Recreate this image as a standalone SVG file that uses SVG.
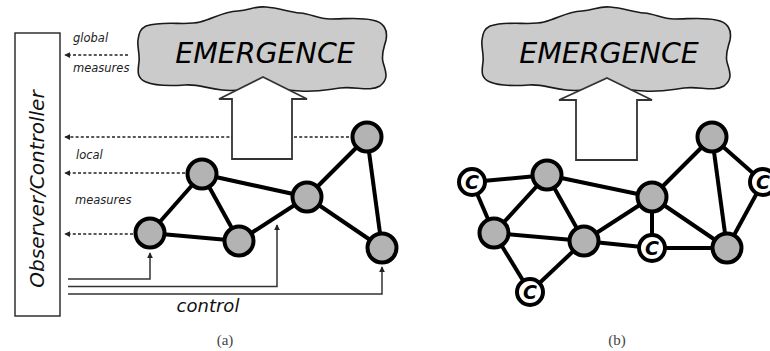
<svg xmlns="http://www.w3.org/2000/svg" width="770" height="351" viewBox="0 0 770 351">
  <defs>
    <marker id="tip" viewBox="0 0 8 8" refX="7" refY="4" markerWidth="6" markerHeight="6" markerUnits="userSpaceOnUse" orient="auto">
      <path d="M0,0 L8,4 L0,8 z" fill="#222"/>
    </marker>
    <path id="cloud" d="M146,26 C165,20 185,26 200,22 C215,18 222,12 238,11 C250,10 255,6 266,7 C280,8 288,12 300,13 C312,14 318,19 330,19 C345,19 360,17 372,20 C384,22 388,30 386,40 C384,48 381,54 383,62 C385,70 390,78 380,86 C370,92 355,86 340,88 C325,90 318,92 300,91 C285,90 275,88 262,88 C248,88 238,92 222,90 C205,88 198,84 185,85 C170,86 155,86 146,82 C136,78 138,70 139,62 C140,54 137,47 138,40 C139,33 140,29 146,26 z"/>
  </defs>
  <style>
    .cloud { fill: #cbcbcb; stroke: #1a1a1a; stroke-width: 1.6; }
    .big { fill: #ffffff; stroke: #333; stroke-width: 1.8; }
    .edge { stroke: #000; stroke-width: 4; fill: none; }
    .node { fill: #b3b3b3; stroke: #000; stroke-width: 4; }
    .cnode { fill: #ffffff; stroke: #000; stroke-width: 4; }
    .ctext { font-family: "DejaVu Sans", sans-serif; font-weight: bold; font-style: oblique; font-size: 19px; fill: #000; text-anchor: middle; }
    .dash { stroke: #222; stroke-width: 1.5; stroke-dasharray: 3 2.2; fill: none; }
    .ctl { stroke: #333; stroke-width: 1.5; fill: none; }
    .lbl { font-family: "DejaVu Sans", sans-serif; font-style: oblique; font-size: 11.5px; fill: #222; }
    .emg { font-family: "DejaVu Sans", sans-serif; font-style: oblique; font-size: 28.5px; fill: #000; text-anchor: middle; }
    .cap { font-family: "Liberation Serif", "DejaVu Serif", serif; font-size: 15px; fill: #444; text-anchor: middle; }
  </style>

  <!-- observer / controller box -->
  <g id="observer">
    <rect x="15" y="33" width="45" height="283" fill="#fff" stroke="#222" stroke-width="1.4"/>
    <text transform="translate(44,189) rotate(-90)" font-family="DejaVu Sans, sans-serif" font-style="oblique" font-size="20" fill="#111" text-anchor="middle">Observer/Controller</text>
  </g>

  <!-- measures and control connectors of panel (a) -->
  <g id="connectors-a">
    <line class="dash" x1="128" y1="55" x2="65" y2="55" marker-end="url(#tip)"/>
    <line class="dash" x1="349" y1="137" x2="65" y2="137" marker-end="url(#tip)"/>
    <line class="dash" x1="185" y1="173" x2="65" y2="173" marker-end="url(#tip)"/>
    <line class="dash" x1="133" y1="234" x2="65" y2="234" marker-end="url(#tip)"/>
    <polyline class="ctl" points="68,279 150,279 150,253" marker-end="url(#tip)"/>
    <polyline class="ctl" points="68,286.5 277,286.5 277,225" marker-end="url(#tip)"/>
    <polyline class="ctl" points="68,294 382,294 382,267" marker-end="url(#tip)"/>
  </g>

  <g id="labels-a">
    <text class="lbl" x="73" y="42">global</text>
    <text class="lbl" x="73" y="72">measures</text>
    <text class="lbl" x="76" y="159">local</text>
    <text class="lbl" x="75" y="204">measures</text>
    <text x="208" y="312" font-family="DejaVu Sans, sans-serif" font-style="oblique" font-size="18" fill="#111" text-anchor="middle">control</text>
  </g>

  <!-- panel (a): emergence cloud and upward arrow -->
  <g id="emergence-a">
    <use href="#cloud" class="cloud"/>
    <text class="emg" x="265" y="63">EMERGENCE</text>
  </g>
  <g id="uparrow-a">
    <path class="big" d="M263,77 L307,99 L292,99 L292,159 L232,159 L232,99 L219,99 z"/>
  </g>

  <!-- panel (a): network edges -->
  <g id="edges-a">
    <line class="edge" x1="150" y1="233" x2="202" y2="174"/>
    <line class="edge" x1="150" y1="233" x2="239" y2="241"/>
    <line class="edge" x1="202" y1="174" x2="239" y2="241"/>
    <line class="edge" x1="202" y1="174" x2="307" y2="197"/>
    <line class="edge" x1="239" y1="241" x2="307" y2="197"/>
    <line class="edge" x1="307" y1="197" x2="367" y2="137"/>
    <line class="edge" x1="307" y1="197" x2="382" y2="248"/>
    <line class="edge" x1="367" y1="137" x2="382" y2="248"/>
  </g>
  <g id="a-n1"><circle class="node" cx="150" cy="233" r="14.5"/></g>
  <g id="a-n2"><circle class="node" cx="202" cy="174" r="14.5"/></g>
  <g id="a-n3"><circle class="node" cx="239" cy="241" r="14.5"/></g>
  <g id="a-n4"><circle class="node" cx="307" cy="197" r="14.5"/></g>
  <g id="a-n5"><circle class="node" cx="367" cy="137" r="14.5"/></g>
  <g id="a-n6"><circle class="node" cx="382" cy="248" r="14.5"/></g>

  <!-- panel (b): emergence cloud and upward arrow -->
  <g id="emergence-b">
    <use href="#cloud" class="cloud" transform="translate(344,0)"/>
    <text class="emg" x="609" y="63">EMERGENCE</text>
  </g>
  <g id="uparrow-b">
    <path class="big" d="M607,78 L652,100 L637,100 L637,160 L576,160 L576,100 L559,100 z"/>
  </g>

  <!-- panel (b): network edges -->
  <g id="edges-b">
    <line class="edge" x1="472" y1="182" x2="547" y2="175"/>
    <line class="edge" x1="472" y1="182" x2="494" y2="233"/>
    <line class="edge" x1="547" y1="175" x2="494" y2="233"/>
    <line class="edge" x1="547" y1="175" x2="584" y2="241"/>
    <line class="edge" x1="494" y1="233" x2="584" y2="241"/>
    <line class="edge" x1="494" y1="233" x2="530" y2="292"/>
    <line class="edge" x1="530" y1="292" x2="584" y2="241"/>
    <line class="edge" x1="547" y1="175" x2="652" y2="197"/>
    <line class="edge" x1="584" y1="241" x2="652" y2="197"/>
    <line class="edge" x1="584" y1="241" x2="652" y2="248"/>
    <line class="edge" x1="652" y1="197" x2="652" y2="248"/>
    <line class="edge" x1="652" y1="248" x2="727" y2="248"/>
    <line class="edge" x1="652" y1="197" x2="727" y2="248"/>
    <line class="edge" x1="652" y1="197" x2="712" y2="137"/>
    <line class="edge" x1="712" y1="137" x2="727" y2="248"/>
    <line class="edge" x1="712" y1="137" x2="763" y2="182"/>
    <line class="edge" x1="763" y1="182" x2="727" y2="248"/>
  </g>
  <g id="b-n1"><circle class="node" cx="547" cy="175" r="14.5"/></g>
  <g id="b-n2"><circle class="node" cx="494" cy="233" r="14.5"/></g>
  <g id="b-n3"><circle class="node" cx="584" cy="241" r="14.5"/></g>
  <g id="b-n4"><circle class="node" cx="652" cy="197" r="14.5"/></g>
  <g id="b-n5"><circle class="node" cx="712" cy="137" r="14.5"/></g>
  <g id="b-n6"><circle class="node" cx="727" cy="248" r="14.5"/></g>
  <g id="b-c1"><circle class="cnode" cx="472" cy="182" r="13"/><text class="ctext" x="472" y="189">C</text></g>
  <g id="b-c2"><circle class="cnode" cx="530" cy="292" r="13"/><text class="ctext" x="530" y="299">C</text></g>
  <g id="b-c3"><circle class="cnode" cx="652" cy="248" r="13"/><text class="ctext" x="652" y="255">C</text></g>
  <g id="b-c4"><circle class="cnode" cx="763" cy="182" r="13"/><text class="ctext" x="763" y="189">C</text></g>

  <!-- captions -->
  <g id="captions">
    <text class="cap" x="225" y="345">(a)</text>
    <text class="cap" x="617" y="345">(b)</text>
  </g>
</svg>
